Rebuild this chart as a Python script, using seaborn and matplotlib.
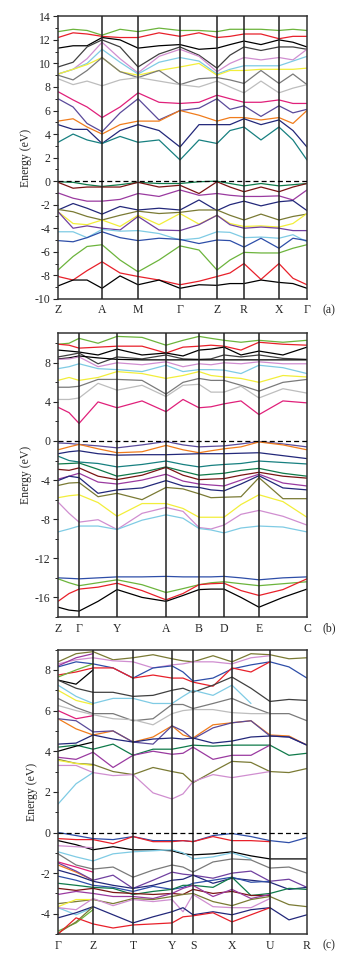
import numpy as np
import matplotlib
matplotlib.use("Agg")
import matplotlib.pyplot as plt
import seaborn as sns

nan = np.nan

# colours used for the bands
C = {
    'black': '#000000', 'red': '#e8202a', 'green': '#6cb43c', 'navy': '#23287a',
    'teal': '#178080', 'magenta': '#e0207a', 'slate': '#5a4a9a', 'orange': '#f07c1c',
    'olive': '#7a7a34', 'yellow': '#f2ee3a', 'sky': '#7fcbe4', 'plum': '#d08ed0',
    'gray': '#7a7a7a', 'lgray': '#bdbdbd', 'maroon': '#7a1414', 'purple': '#9a3aa0',
    'dgreen': '#0f7a4a', 'blue': '#2e4ea8', 'violet': '#7040a0', 'dgray': '#404040',
}

# ---------------- panel (a) ----------------
ka_labels = ['Z', 'A', 'M', 'Γ', 'Z', 'R', 'X', 'Γ']
ka_pts = [0, 44, 80, 122, 159, 186, 221, 249]
ka_grid = [0, 15, 29, 44, 62, 80, 101, 122, 141, 159, 172, 186, 203, 221, 235, 249]

a_green_top = [12.7, 12.9, 12.8, 12.4, 12.9, 12.7, 13.0, 12.8, 12.8, 12.7, 12.9, 12.9, 12.9, 12.8, 12.9, 12.8]
a_red_top = [12.2, 12.6, 12.5, 12.3, 12.2, 12.2, 12.6, 12.3, 12.6, 12.2, 12.3, 12.5, 12.5, 12.1, 12.3, 12.3]
a_black1 = [11.3, 11.5, 11.5, 12.2, 12.0, 11.3, 11.5, 11.6, 11.2, 11.3, 11.6, 11.9, 11.6, 12.0, 11.8, 11.4]
a_black2 = [9.7, 10.1, 11.4, 12.0, 11.4, 9.7, 10.8, 11.4, 10.7, 9.6, 10.7, 11.4, 11.1, 11.4, 11.4, 11.2]
a_plum = [9.1, 9.5, 10.4, 11.8, 10.4, 9.2, 10.6, 11.2, 10.6, 9.3, 10.0, 10.5, 10.3, 10.5, 10.3, 11.2]
a_sky = [9.1, 9.5, 10.0, 11.2, 10.1, 9.1, 10.1, 10.5, 10.2, 9.1, 9.5, 9.8, 9.8, 9.8, 10.2, 10.6]
a_yellow = [9.1, 9.5, 9.9, 10.5, 9.3, 9.0, 9.4, 9.7, 10.0, 9.0, 9.4, 9.4, 9.5, 9.5, 9.5, 9.6]
a_dgray = [9.0, 8.6, 9.4, 10.5, 9.3, 8.8, 9.4, 8.2, 8.7, 8.8, 8.6, 8.3, 9.4, 8.3, 9.1, 8.2]
a_lgray = [8.7, 8.2, 8.5, 8.1, 8.6, 8.8, 8.5, 8.2, 8.0, 8.5, 8.0, 7.5, 8.5, 7.5, 7.9, 8.2]
a_magenta = [7.6, 6.9, 6.3, 5.4, 6.3, 7.5, 6.7, 6.6, 6.7, 7.3, 7.0, 6.7, 6.7, 6.9, 6.6, 6.6]
a_slate = [7.0, 6.3, 4.9, 4.2, 5.8, 7.0, 5.2, 6.0, 6.2, 7.0, 6.1, 6.4, 5.5, 6.4, 5.8, 6.1]
a_orange = [5.1, 5.3, 4.6, 4.0, 4.8, 5.1, 5.1, 6.0, 5.6, 5.1, 5.4, 5.4, 5.2, 5.4, 4.9, 6.0]
a_navy = [4.8, 4.4, 4.4, 3.2, 4.3, 4.8, 4.3, 2.9, 4.8, 4.8, 4.8, 5.3, 4.8, 5.2, 4.3, 2.9]
a_teal = [3.3, 4.0, 3.5, 3.2, 3.8, 3.3, 3.5, 1.8, 3.5, 3.2, 4.3, 4.6, 3.5, 4.6, 3.5, 1.8]
a_teal_v = [-0.05, -0.1, -0.3, -0.45, -0.3, -0.1, -0.2, -0.2, -0.05, 0.0, -0.2, -0.4, -0.2, -0.4, -0.3, -0.2]
a_maroon = [-0.1, -0.6, -0.5, -0.5, -0.5, -0.1, -0.5, -0.35, -1.05, -0.05, -0.5, -0.9, -0.5, -0.9, -0.5, -0.2]
a_purple = [-1.0, -1.45, -1.7, -1.7, -1.55, -1.05, -1.3, -0.75, -1.2, -1.05, -1.2, -1.3, -1.3, -1.25, -1.6, -0.75]
a_navy_v = [-2.45, -1.9, -2.3, -2.8, -2.15, -2.45, -2.3, -2.45, -1.6, -2.5, -2.0, -1.7, -2.1, -1.75, -1.65, -2.5]
a_olive = [-2.4, -2.6, -3.0, -3.3, -2.9, -2.55, -2.75, -2.65, -2.45, -2.45, -2.9, -3.3, -2.8, -3.3, -3.0, -2.8]
a_yellow_v = [-2.6, -3.6, -3.7, -3.3, -3.85, -2.9, -3.7, -2.75, -3.65, -2.9, -3.6, -3.85, -3.8, -3.9, -3.6, -2.75]
a_violet = [-2.6, -4.0, -3.8, -4.0, -4.15, -3.0, -4.15, -4.2, -3.7, -2.9, -3.7, -4.0, -3.9, -4.0, -4.2, -4.2]
a_sky_v = [-4.3, -4.3, -4.8, -4.1, -4.25, -4.2, -4.45, -5.0, -4.85, -4.3, -4.35, -4.8, -4.75, -4.85, -4.55, -5.15]
a_blue_v = [-5.05, -5.15, -4.8, -4.3, -4.8, -5.05, -4.85, -4.95, -5.3, -5.0, -5.05, -5.6, -4.85, -5.7, -4.85, -5.05]
a_green_v = [-7.55, -6.4, -5.55, -5.4, -6.7, -7.7, -6.7, -5.5, -5.85, -7.55, -6.7, -6.05, -6.1, -6.1, -5.7, -5.4]
a_red_v = [-8.1, -8.4, -7.6, -6.85, -7.8, -8.1, -8.4, -8.8, -8.5, -8.1, -7.8, -7.0, -8.35, -7.0, -8.25, -8.8]
a_black_v = [-8.9, -8.4, -8.4, -9.1, -8.05, -8.8, -8.4, -9.1, -8.8, -8.85, -8.7, -8.7, -8.4, -8.6, -8.7, -9.1]

bands_a = [
    ('green', a_green_top), ('red', a_red_top), ('black', a_black1), ('dgray', a_black2),
    ('plum', a_plum), ('sky', a_sky), ('yellow', a_yellow), ('gray', a_dgray),
    ('lgray', a_lgray), ('magenta', a_magenta), ('slate', a_slate), ('orange', a_orange),
    ('navy', a_navy), ('teal', a_teal), ('dgreen', a_teal_v), ('maroon', a_maroon),
    ('purple', a_purple), ('navy', a_navy_v), ('olive', a_olive), ('yellow', a_yellow_v),
    ('violet', a_violet), ('sky', a_sky_v), ('blue', a_blue_v), ('green', a_green_v),
    ('red', a_red_v), ('black', a_black_v),
]

# ---------------- panel (b) ----------------
kb_labels = ['Z', 'Γ', 'Y', 'A', 'B', 'D', 'E', 'C']
kb_pts = [0, 21, 59, 108, 141, 166, 201, 249]
kb_grid = [0, 11, 21, 40, 59, 84, 108, 125, 141, 153, 166, 183, 201, 225, 249]

b_green = [9.9, 10.0, 10.5, 10.0, 10.7, 10.6, 9.8, 10.3, 10.7, 10.5, 10.3, 10.1, 10.3, 10.1, 10.3]
b_red = [9.9, 9.8, 9.5, 9.6, 9.7, 9.7, 9.0, 9.6, 9.7, 9.8, 9.7, 9.3, 10.1, 9.9, 9.8]
b_black = [9.3, 9.2, 9.1, 8.8, 9.4, 8.8, 9.0, 8.7, 9.3, 9.4, 9.6, 8.8, 9.2, 8.8, 9.6]
b_dgray = [8.6, 8.8, 9.0, 7.9, 8.6, 8.4, 8.8, 8.4, 8.35, 8.4, 8.8, 8.6, 8.8, 8.45, 8.35]
b_black_flat = [8.4, 8.5, 8.7, 8.5, 8.35, 8.3, 8.3, 8.3, 8.3, 8.3, 8.3, 8.3, 8.3, 8.3, 8.3]
b_plum = [8.35, 8.4, 8.6, 7.6, 8.0, 7.8, 8.1, 7.6, 7.9, 7.8, 8.0, 7.9, 8.1, 7.9, 7.9]
b_sky = [7.4, 7.6, 7.9, 7.4, 7.3, 7.1, 7.75, 7.1, 7.3, 7.3, 7.25, 6.9, 7.75, 7.5, 6.9]
b_yellow = [6.2, 6.5, 6.2, 6.5, 7.1, 6.9, 6.4, 6.7, 7.1, 6.7, 6.55, 6.4, 6.0, 6.7, 6.55]
b_gray = [5.5, 5.5, 5.6, 6.3, 6.3, 6.2, 4.8, 6.0, 6.4, 6.2, 6.2, 5.7, 5.1, 6.0, 6.3]
b_lgray = [4.25, 4.25, 4.4, 5.9, 5.2, 5.7, 4.55, 5.7, 5.8, 5.0, 5.0, 5.6, 4.4, 5.35, 4.9]
b_magenta = [3.45, 2.9, 1.8, 4.0, 3.4, 4.1, 3.0, 4.25, 3.4, 3.5, 3.8, 4.1, 2.7, 4.1, 3.9]
b_slate = [-0.2, -0.25, -0.35, -0.5, -0.7, -0.4, -0.05, -0.4, -0.6, -0.55, -0.5, -0.3, -0.05, -0.3, -0.6]
b_orange = [-0.9, -0.6, -0.35, -0.8, -1.2, -1.1, -0.45, -0.9, -1.2, -1.0, -0.8, -0.6, -0.1, -0.4, -0.9]
b_navy = [-1.3, -1.1, -1.0, -1.3, -1.45, -1.4, -1.4, -1.35, -1.3, -1.3, -1.3, -1.25, -1.2, -1.5, -1.8]
b_teal = [-1.55, -2.0, -2.15, -2.3, -2.65, -2.4, -2.05, -2.4, -2.65, -2.5, -2.4, -2.3, -2.05, -2.2, -2.35]
b_dgreen = [-2.35, -2.3, -2.25, -2.9, -3.6, -3.2, -2.65, -3.1, -3.5, -3.4, -3.3, -3.0, -2.8, -3.3, -3.6]
b_maroon = [-2.9, -3.0, -2.75, -3.6, -3.95, -3.5, -2.7, -3.5, -3.95, -3.9, -3.85, -3.5, -3.2, -3.6, -3.8]
b_purple = [-3.9, -3.6, -3.3, -4.2, -4.4, -4.0, -3.4, -4.1, -4.4, -4.5, -4.6, -4.0, -3.4, -4.3, -4.6]
b_navy2 = [-4.05, -3.6, -3.75, -5.35, -5.0, -4.8, -4.05, -4.6, -4.75, -5.0, -5.1, -4.4, -3.55, -4.8, -5.0]
b_olive = [-4.55, -4.3, -4.25, -5.7, -5.35, -6.0, -4.75, -4.9, -5.4, -5.8, -5.75, -5.7, -3.75, -5.9, -5.9]
b_yellow_v = [-5.8, -5.6, -5.5, -6.3, -7.7, -6.4, -6.4, -6.9, -7.8, -7.8, -7.8, -6.5, -5.5, -6.2, -7.8]
b_plum_v = [-6.25, -7.4, -8.3, -8.05, -9.05, -7.4, -6.8, -7.2, -8.85, -9.0, -8.6, -7.5, -7.1, -7.7, -8.6]
b_sky_v = [-9.3, -9.0, -8.7, -8.7, -9.05, -8.1, -7.55, -7.9, -8.95, -9.1, -9.4, -8.9, -8.7, -8.8, -9.3]
b_blue_deep = [-14.0, -14.05, -14.1, -14.0, -13.9, -13.9, -13.85, -13.9, -13.9, -13.9, -13.85, -14.0, -14.2, -14.0, -13.9]
b_green_deep = [-14.1, -14.5, -14.8, -14.5, -14.2, -14.7, -15.5, -15.1, -14.7, -14.5, -14.4, -14.6, -14.8, -14.6, -14.4]
b_red_deep = [-16.4, -15.6, -15.15, -14.95, -14.55, -15.3, -16.25, -15.6, -14.7, -14.6, -14.55, -15.3, -15.8, -15.2, -14.1]
b_black_deep = [-17.0, -17.3, -17.4, -16.4, -15.2, -16.0, -16.4, -15.8, -15.2, -15.15, -15.15, -16.0, -17.0, -16.0, -15.15]

bands_b = [
    ('green', b_green), ('red', b_red), ('black', b_black), ('dgray', b_dgray),
    ('black', b_black_flat), ('plum', b_plum), ('sky', b_sky), ('yellow', b_yellow),
    ('gray', b_gray), ('lgray', b_lgray), ('magenta', b_magenta), ('slate', b_slate),
    ('orange', b_orange), ('navy', b_navy), ('teal', b_teal), ('dgreen', b_dgreen),
    ('maroon', b_maroon), ('purple', b_purple), ('navy', b_navy2), ('olive', b_olive),
    ('yellow', b_yellow_v), ('plum', b_plum_v), ('sky', b_sky_v), ('blue', b_blue_deep),
    ('green', b_green_deep), ('red', b_red_deep), ('black', b_black_deep),
]

# ---------------- panel (c) ----------------
kc_labels = ['Γ', 'Z', 'T', 'Y', 'S', 'X', 'U', 'R']
kc_pts = [0, 35, 75, 114, 135, 174, 212, 249]
kc_grid = [0, 18, 35, 55, 75, 95, 114, 125, 135, 155, 174, 193, 212, 231, 249]

c_olive_top = [8.4, 8.8, 8.9, 8.5, 8.6, 8.75, 8.55, 8.45, 8.4, 8.7, 8.4, 8.8, 8.75, 8.55, 8.6]
c_pink_top = [8.3, 8.5, 8.6, 8.45, 8.4, 8.1, 8.25, 8.3, 8.4, 8.4, 8.3, 8.6, 8.7, nan, nan]
c_purple_top = [8.2, 8.6, 8.8, nan, nan, nan, nan, nan, nan, nan, nan, nan, nan, nan, nan]
c_blue = [8.15, 8.4, 8.3, 8.1, 7.6, 8.1, 8.2, 7.9, 7.45, 7.6, 8.05, 8.25, 8.4, 8.15, 7.6]
c_red = [7.75, 7.9, 8.1, 8.1, 7.6, 7.75, 7.6, 7.6, 7.4, 7.2, 8.1, 7.9, 8.4, nan, nan]
c_green_top = [7.65, 8.0, 8.3, nan, nan, nan, nan, nan, nan, nan, nan, nan, nan, nan, nan]
c_black_top = [7.5, 7.3, 8.0, nan, nan, nan, nan, nan, nan, nan, nan, nan, nan, nan, nan]
c_dgray = [7.5, 7.1, 6.9, 6.9, 6.7, 6.75, 7.0, 7.1, 6.9, 7.25, 7.65, 7.1, 6.45, 6.55, 6.5]
c_sky = [7.25, 6.7, 6.35, 6.6, 6.6, 6.35, 6.35, 6.7, 7.0, 6.75, 7.25, 6.35, nan, nan, nan]
c_yellow_top = [7.0, 6.5, 6.3, nan, nan, nan, nan, nan, nan, nan, nan, nan, nan, nan, nan]
c_gray = [6.6, 6.15, 5.85, 5.85, 5.5, 5.6, 6.3, 6.3, 6.1, 6.35, 6.6, 6.2, 5.85, 5.85, 5.5]
c_lgray = [6.25, 6.0, 5.8, 5.6, 5.55, 5.3, 5.85, 6.0, 6.05, 6.05, 5.9, 5.85, 5.85, nan, nan]
c_magenta_top = [6.0, 5.6, 5.75, nan, nan, nan, nan, nan, nan, nan, nan, nan, nan, nan, nan]
c_orange = [5.6, 5.1, 4.8, 5.0, 4.45, 4.7, 5.25, 4.8, 4.65, 5.3, 5.4, 5.5, 4.8, 4.75, 4.3]
c_slate = [5.6, 5.5, 4.95, 5.0, 4.45, 4.35, 5.25, 5.0, 4.6, 5.15, 5.4, 5.5, 4.75, 4.7, 4.3]
c_navy = [4.35, 4.4, 4.8, 4.6, 4.45, 4.6, 4.65, 4.6, 4.65, 4.4, 4.5, 4.7, 4.75, 4.7, 4.3]
c_dgreen = [4.2, 4.3, 4.1, 4.35, 3.8, 4.1, 4.1, 4.2, 4.3, 4.25, 4.3, 4.3, 4.3, 3.8, 3.9]
c_black_mid = [4.0, 4.25, 4.45, nan, nan, nan, nan, nan, nan, nan, nan, nan, nan, nan, nan]
c_purple = [3.7, 3.6, 3.95, 3.2, 3.8, 4.0, 3.85, 3.9, 4.2, 3.6, 3.8, 3.8, 4.3, nan, nan]
c_olive_low = [3.6, 3.4, 3.35, 3.0, 2.85, 3.2, 3.0, 2.9, 2.45, 3.0, 3.5, 3.45, 3.0, 2.95, 3.15]
c_yellow_low = [3.55, 3.4, 3.3, nan, nan, nan, nan, nan, nan, nan, nan, nan, nan, nan, nan]
c_pink_low = [3.3, 3.3, 2.95, 2.8, 2.85, 1.95, 1.65, 1.9, 2.5, 2.85, 2.7, 2.85, 3.0, nan, nan]
c_sky_low = [1.4, 2.4, 2.95, nan, nan, nan, nan, nan, nan, nan, nan, nan, nan, nan, nan]
c_blue_v = [0.0, -0.15, -0.3, -0.35, -0.2, -0.4, -0.4, -0.4, -0.45, -0.15, -0.05, -0.2, -0.4, -0.5, -0.25]
c_red_v = [-0.3, -0.35, -0.35, -0.55, -0.2, -0.45, -0.45, -0.4, -0.45, -0.2, -0.4, -0.4, -0.45, nan, nan]
c_black_v = [-0.4, -0.6, -0.85, -0.7, -0.85, -0.85, -0.9, -1.05, -1.1, -1.05, -0.95, -1.15, -1.3, -1.3, -1.3]
c_pink_v = [-0.65, -0.7, -0.75, nan, nan, nan, nan, nan, nan, nan, nan, nan, nan, nan, nan]
c_sky_v = [-0.95, -1.2, -1.4, -1.05, -0.95, -0.9, -0.85, -1.0, -1.3, -1.2, -1.0, -1.3, nan, nan, nan]
c_gray_v = [-1.05, -1.6, -1.8, -1.7, -2.2, -1.85, -1.6, -1.7, -1.95, -1.45, -1.3, -1.35, -1.75, -1.7, -2.0]
c_magenta_v = [-1.45, -1.7, -1.95, nan, nan, nan, nan, nan, nan, nan, nan, nan, nan, nan, nan]
c_orange_v = [-1.6, -1.95, -2.35, nan, nan, nan, nan, nan, nan, nan, nan, nan, nan, nan, nan]
c_violet_v = [-1.5, -1.9, -2.35, -2.1, -2.75, -2.35, -1.95, -2.05, -2.1, -2.25, -2.0, -1.9, -2.4, -2.3, -2.7]
c_navy_v = [-1.85, -2.1, -2.4, -2.6, -2.75, -2.6, -2.35, -2.3, -2.1, -2.5, -2.25, -2.35, -2.45, -2.8, -2.7]
c_navy2_v = [-2.15, -2.35, -2.6, -2.7, -2.9, -2.65, -2.8, -2.7, -2.5, -2.35, -2.2, -2.45, -2.4, nan, nan]
c_dgreen_v = [-2.5, -2.6, -2.7, -2.75, -3.05, -2.9, -2.8, -2.6, -2.6, -2.7, -2.2, -3.1, -3.0, -2.75, -2.8]
c_maroon_v = [-2.75, -2.85, -2.75, -2.95, -3.0, -3.05, -3.0, -3.05, -2.8, -3.0, -2.9, -3.1, -3.1, nan, nan]
c_purple_v = [-3.05, -2.9, -3.0, -3.15, -3.15, -3.25, -3.0, -2.75, -2.6, -3.15, -2.8, -3.25, -3.05, nan, nan]
c_olive_v = [-3.5, -3.4, -3.3, -3.5, -3.25, -3.3, -3.15, -3.05, -3.0, -3.4, -3.6, -3.3, -3.15, -3.55, -3.65]
c_yellow_v = [-3.65, -3.3, -3.3, nan, nan, nan, nan, nan, nan, nan, nan, nan, nan, nan, nan]
c_cyan_v = [-3.7, -4.05, -3.7, nan, nan, nan, nan, nan, nan, nan, nan, nan, nan, nan, nan]
c_plum_v = [-3.7, -3.8, -3.25, -3.6, -3.3, -3.4, -3.3, -3.9, -3.05, -3.65, -3.7, -3.7, -3.25, nan, nan]
c_navy_low = [-4.2, -3.95, -3.65, -4.05, -4.45, -4.15, -3.9, -3.7, -4.05, -3.9, -4.05, -3.8, -3.7, -4.3, -4.05]
c_green_low = [-4.85, -4.45, -3.8, nan, nan, nan, nan, nan, nan, nan, nan, nan, nan, nan, nan]
c_olive_low_v = [-4.95, -4.4, -3.65, nan, nan, nan, nan, nan, nan, nan, nan, nan, nan, nan, nan]
c_red_low = [-5.0, -4.2, -4.5, -4.7, -4.55, -4.5, -4.45, -4.15, -4.1, -3.95, -4.4, -4.05, -3.7, nan, nan]

bands_c = [
    ('olive', c_olive_top), ('plum', c_pink_top), ('purple', c_purple_top), ('blue', c_blue),
    ('red', c_red), ('green', c_green_top), ('black', c_black_top), ('dgray', c_dgray),
    ('sky', c_sky), ('yellow', c_yellow_top), ('gray', c_gray), ('lgray', c_lgray),
    ('magenta', c_magenta_top), ('orange', c_orange), ('slate', c_slate), ('navy', c_navy),
    ('dgreen', c_dgreen), ('black', c_black_mid), ('purple', c_purple), ('olive', c_olive_low),
    ('yellow', c_yellow_low), ('plum', c_pink_low), ('sky', c_sky_low),
    ('blue', c_blue_v), ('red', c_red_v), ('black', c_black_v), ('plum', c_pink_v),
    ('sky', c_sky_v), ('gray', c_gray_v), ('magenta', c_magenta_v), ('orange', c_orange_v),
    ('violet', c_violet_v), ('navy', c_navy_v), ('blue', c_navy2_v), ('dgreen', c_dgreen_v),
    ('maroon', c_maroon_v), ('purple', c_purple_v), ('olive', c_olive_v), ('yellow', c_yellow_v),
    ('sky', c_cyan_v), ('plum', c_plum_v), ('navy', c_navy_low), ('green', c_green_low),
    ('olive', c_olive_low_v), ('red', c_red_low),
]

# -------------------
sns.set_style("ticks")
plt.rcParams['font.family'] = ['Liberation Serif', 'DejaVu Serif']
plt.rcParams['axes.unicode_minus'] = False

fig = plt.figure(figsize=(3.52, 9.61), dpi=100)

panels = [
    ('(a)', [0.165, 0.689, 0.707, 0.294], ka_grid, ka_pts, ka_labels, bands_a, (-10, 14), 2, 1),
    ('(b)', [0.165, 0.358, 0.707, 0.295], kb_grid, kb_pts, kb_labels, bands_b, (-18, 11), 4, 2),
    ('(c)', [0.165, 0.028, 0.707, 0.296], kc_grid, kc_pts, kc_labels, bands_c, (-5, 9), 2, 1),
]

for tag, rect, kgrid, kpts, klabels, bands, ylim, major, minor in panels:
    ax = fig.add_axes(rect)
    for cname, vals in bands:
        sns.lineplot(x=kgrid, y=vals, color=C[cname], lw=0.9, ax=ax,
                     estimator=None, sort=False)
    for k in kpts[1:-1]:
        ax.axvline(k, color='#222222', lw=1.1, zorder=5)
    ax.axhline(0, color='black', lw=0.9, ls=(0, (4, 2.5)), zorder=6)
    ax.set_xlim(kpts[0], kpts[-1])
    ax.set_ylim(*ylim)
    ax.set_xticks(kpts)
    ax.set_xticklabels(klabels)
    lo = int(np.ceil(ylim[0] / major) * major)
    ax.set_yticks(np.arange(lo, ylim[1] + 0.01, major))
    ax.set_yticks(np.arange(ylim[0], ylim[1] + 0.01, minor), minor=True)
    ax.tick_params(axis='x', length=0, pad=4, labelsize=8.5)
    ax.tick_params(axis='y', which='major', direction='out', length=3.5, width=0.8,
                   labelsize=8.5, pad=2)
    ax.tick_params(axis='y', which='minor', direction='out', length=2, width=0.7)
    for sp in ax.spines.values():
        sp.set_color('#333333')
        sp.set_linewidth(1.1)
    ax.set_ylabel('Energy (eV)', fontsize=8.5, labelpad=2)
    ax.annotate(tag, xy=(1, 0), xycoords='axes fraction', xytext=(11, -4),
                textcoords='offset points', ha='left', va='top', fontsize=8.5)

fig.savefig("out.png", dpi=100)
